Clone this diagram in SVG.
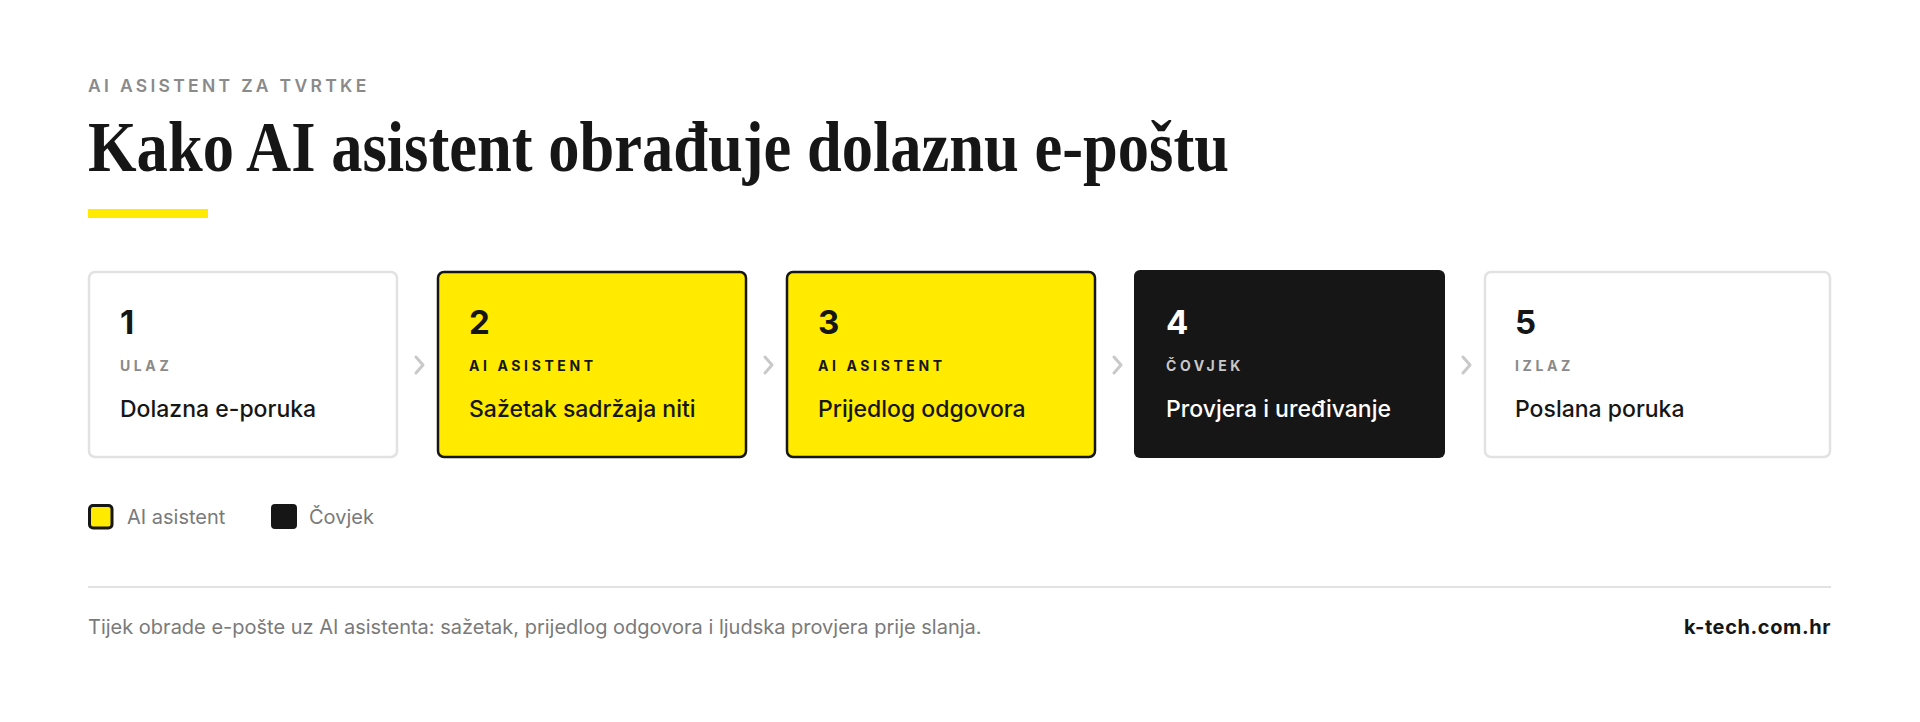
<svg xmlns="http://www.w3.org/2000/svg" width="1920" height="722" viewBox="0 0 1920 722">
<style>
.sans{font-family:Inter,"Noto Sans","Liberation Sans",sans-serif}
.eyebrow{font-size:17.5px;font-weight:600;letter-spacing:3.3px;fill:#8a8a8a}
.title{font-family:"Liberation Serif","DejaVu Serif",serif;font-weight:700;font-size:72px;fill:#161616}
.num{font-size:33px;font-weight:700}
.lab{font-size:14px;font-weight:700;letter-spacing:3.6px}
.main{font-size:23px;font-weight:500}
.card-w{fill:#fff;stroke:#e2e2e2;stroke-width:2.5}
.card-y{fill:#ffea00;stroke:#161616;stroke-width:2.5}
.card-b{fill:#161616}
.chev{fill:none;stroke:#c9c9c9;stroke-width:3;stroke-linecap:round;stroke-linejoin:round}
.legend{font-size:20px;fill:#7a7a7a}
.foot{font-size:20px;fill:#7a7a7a}
</style>
<rect width="1920" height="722" fill="#fff"/>
<g id="header">
<text class="sans eyebrow" x="88" y="92">AI ASISTENT ZA TVRTKE</text>
<text class="title" x="88" y="171" textLength="1141" lengthAdjust="spacingAndGlyphs">Kako AI asistent obrađuje dolaznu e-poštu</text>
<rect x="88" y="209" width="120" height="9" fill="#ffea00"/>
</g>
<g id="connectors">
<polyline class="chev" points="416,357 423,365 416,373"/>
<polyline class="chev" points="765,357 772,365 765,373"/>
<polyline class="chev" points="1114,357 1121,365 1114,373"/>
<polyline class="chev" points="1463,357 1470,365 1463,373"/>
</g>
<g id="step1" class="sans">
<rect class="card-w" x="89" y="272" width="308" height="185" rx="6"/>
<text class="num" x="120" y="334" fill="#161616">1</text>
<text class="lab" x="120" y="371" fill="#8a8a8a">ULAZ</text>
<text class="main" x="120" y="417" fill="#161616">Dolazna e-poruka</text>
</g>
<g id="step2" class="sans">
<rect class="card-y" x="438" y="272" width="308" height="185" rx="6"/>
<text class="num" x="469" y="334" fill="#161616">2</text>
<text class="lab" x="469" y="371" fill="#161616">AI ASISTENT</text>
<text class="main" x="469" y="417" fill="#161616">Sažetak sadržaja niti</text>
</g>
<g id="step3" class="sans">
<rect class="card-y" x="787" y="272" width="308" height="185" rx="6"/>
<text class="num" x="818" y="334" fill="#161616">3</text>
<text class="lab" x="818" y="371" fill="#161616">AI ASISTENT</text>
<text class="main" x="818" y="417" fill="#161616">Prijedlog odgovora</text>
</g>
<g id="step4" class="sans">
<rect class="card-b" x="1134" y="270" width="311" height="188" rx="6"/>
<text class="num" x="1166" y="334" fill="#ffffff">4</text>
<text class="lab" x="1166" y="371" fill="#c8c8c8">ČOVJEK</text>
<text class="main" x="1166" y="417" fill="#ffffff">Provjera i uređivanje</text>
</g>
<g id="step5" class="sans">
<rect class="card-w" x="1485" y="272" width="345" height="185" rx="6"/>
<text class="num" x="1515" y="334" fill="#161616">5</text>
<text class="lab" x="1515" y="371" fill="#8a8a8a">IZLAZ</text>
<text class="main" x="1515" y="417" fill="#161616">Poslana poruka</text>
</g>
<g id="legend" class="sans">
<rect x="89.5" y="505.5" width="22.5" height="22.5" rx="3.5" fill="#ffea00" stroke="#161616" stroke-width="3"/>
<text class="legend" x="127" y="524">AI asistent</text>
<rect x="271" y="504" width="26" height="25" rx="4" fill="#161616"/>
<text class="legend" x="309" y="524">Čovjek</text>
</g>
<g id="footer" class="sans">
<line x1="88" y1="587" x2="1831" y2="587" stroke="#e2e2e2" stroke-width="2"/>
<text class="foot" x="88" y="634">Tijek obrade e-pošte uz AI asistenta: sažetak, prijedlog odgovora i ljudska provjera prije slanja.</text>
<text x="1831" y="634" text-anchor="end" font-size="20" font-weight="700" letter-spacing="0.6" fill="#161616">k-tech.com.hr</text>
</g>
</svg>
